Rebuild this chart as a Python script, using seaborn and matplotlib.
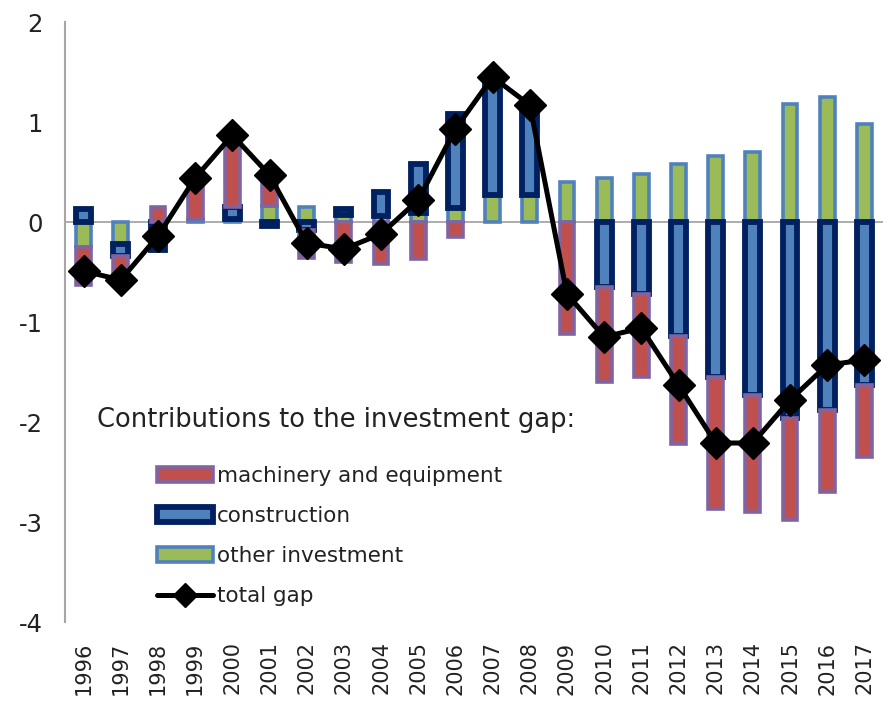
import numpy as np
import pandas as pd
import seaborn as sns
import matplotlib.pyplot as plt
from matplotlib.patches import Patch
from matplotlib.lines import Line2D


#
# data (contributions to the investment gap, pp)
#

years = list(range(1996, 2018))
other = [-0.25, -0.22, 0.00, 0.03, 0.03, 0.16, 0.15, 0.07, 0.06, 0.09, 0.14,
         0.27, 0.27, 0.40, 0.44, 0.48, 0.58, 0.66, 0.70, 1.18, 1.25, 0.98]
construction = [0.13, -0.12, -0.28, 0.00, 0.12, -0.04, -0.08, 0.06, 0.24, 0.49, 0.94,
                1.18, 0.90, 0.00, -0.65, -0.72, -1.14, -1.55, -1.73, -1.96, -1.88, -1.63]
machinery = [-0.38, -0.23, 0.15, 0.41, 0.72, 0.35, -0.28, -0.40, -0.42, -0.37, -0.15,
             0.00, 0.00, -1.12, -0.95, -0.83, -1.08, -1.32, -1.17, -1.02, -0.82, -0.72]
total = [-0.49, -0.58, -0.14, 0.44, 0.87, 0.47, -0.21, -0.27, -0.12, 0.22, 0.93,
         1.45, 1.17, -0.72, -1.15, -1.06, -1.63, -2.21, -2.21, -1.78, -1.43, -1.38]

ytick_vals = [-4, -3, -2, -1, 0, 1, 2]


#
# style
#

sns.set_theme(style="white")
plt.rcParams["font.family"] = ["DejaVu Sans"]
plt.rcParams["axes.unicode_minus"] = False
text_color = "#222222"

c_other = ("#9BBB59", "#4F81BD", 2.6)
c_constr = ("#4F81BD", "#002060", 4.2)
c_mach = ("#C0504D", "#8064A2", 2.6)

fig = plt.figure(figsize=(8.83, 7.01), dpi=100)
ax = fig.add_axes([65 / 883, 79 / 701, 818 / 883, 600 / 701])

x = np.arange(len(years))

# stacked bars, excel style: positives and negatives stacked separately
pos_base = np.zeros(len(years))
neg_base = np.zeros(len(years))
for vals, (fc, ec, lw) in [(other, c_other), (construction, c_constr), (machinery, c_mach)]:
    vals = np.array(vals)
    bottom = np.where(vals >= 0, pos_base, neg_base)
    mask = vals != 0
    ax.bar(x[mask], vals[mask], bottom=bottom[mask], width=0.4,
           color=fc, edgecolor=ec, linewidth=lw, zorder=2)
    pos_base += np.where(vals > 0, vals, 0)
    neg_base += np.where(vals < 0, vals, 0)

# total gap line
df = pd.DataFrame({"x": x, "total": total})
sns.lineplot(data=df, x="x", y="total", color="black", linewidth=3.6,
             marker="D", markersize=16, markeredgecolor="black", markeredgewidth=1,
             ax=ax, zorder=3)

ax.axhline(0, color="#A6A6A6", linewidth=1.3, zorder=1)

# axes
ax.set_xlim(-0.5, len(years) - 0.5)
ax.set_ylim(-4, 2)
ax.set_xticks(x)
ax.set_xticklabels([str(y) for y in years], rotation=90)
ax.set_yticks(ytick_vals)
ax.set_yticklabels([str(v) for v in ytick_vals])
ax.set_xlabel("")
ax.set_ylabel("")
for s in ["top", "right", "bottom"]:
    ax.spines[s].set_visible(False)
ax.spines["left"].set_color("#A6A6A6")
ax.spines["left"].set_linewidth(1.5)
ax.tick_params(axis="y", length=0, pad=16, labelsize=17.5, labelcolor=text_color)
ax.tick_params(axis="x", length=0, pad=14, labelsize=15, labelcolor=text_color)

# legend
fig.text(97 / 883, 1 - 420 / 701, "Contributions to the investment gap:",
         fontsize=18.5, color=text_color, ha="left", va="center")

handles = [
    Patch(facecolor=c_mach[0], edgecolor=c_mach[1], linewidth=c_mach[2], label="machinery and equipment"),
    Patch(facecolor=c_constr[0], edgecolor=c_constr[1], linewidth=c_constr[2], label="construction"),
    Patch(facecolor=c_other[0], edgecolor=c_other[1], linewidth=c_other[2], label="other investment"),
    Line2D([], [], color="black", linewidth=3.6, marker="D", markersize=12, label="total gap"),
]
leg = ax.legend(handles=handles, loc="upper left",
                bbox_to_anchor=(157 / 883, 1 - 466 / 701), bbox_transform=fig.transFigure,
                frameon=False, fontsize=15.5, handlelength=2.6, handleheight=0.7,
                handletextpad=0.2, labelspacing=0.93, borderpad=0, borderaxespad=0)
for t in leg.get_texts():
    t.set_color(text_color)

fig.savefig("out.png", dpi=100)
